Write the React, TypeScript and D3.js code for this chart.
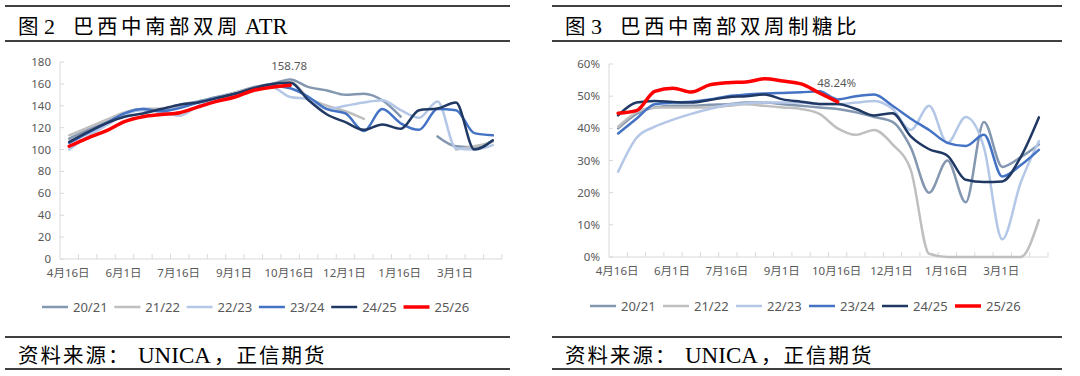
import React from "react";
import * as d3 from "d3";

const categories = [
  "4月16日", "5月1日", "5月16日", "6月1日", "6月16日", "7月1日", "7月16日", "8月1日",
  "8月16日", "9月1日", "9月16日", "10月1日", "10月16日", "11月1日", "11月16日", "12月1日",
  "12月16日", "1月1日", "1月16日", "2月1日", "2月16日", "3月1日", "3月16日", "4月1日",
];
const labelEvery = 3;

const seasons = ["20/21", "21/22", "22/23", "23/24", "24/25", "25/26"];
const seasonColors = ["#8497B0", "#BFBFBF", "#B4C7E7", "#4472C4", "#203864", "#FF0000"];

type V = number | null;

// 图2 ATR (kg/t)
const atr2021: V[] = [110, 118, 126, 133, 137, 137, 141, 144, 148, 152, 157, 160, 164, 157, 154, 150, 151, 145, 130, null, 112, 103, 102, 108];
const atr2122: V[] = [113, 120, 127, 134, 137, 137, 140, 143, 147, 152, 156, 159, 162, 147, 140, 135, 128, null, null, null, null, 100, 103, 107];
const atr2223: V[] = [100, 112, 122, 132, 136, 134, 131, 140, 146, 150, 155, 157, 148, 146, 137, 140, 143, 145, 136, 129, 144, 101, 100, 104];
const atr2324: V[] = [106, 115, 124, 133, 137, 135, 138, 143, 147, 151, 155, 158, 156, 148, 137, 133, 117, 137, 124, 118, 137, 136, 115, 113];
const atr2425: V[] = [107, 116, 124, 130, 133, 137, 141, 143, 147, 151, 156, 160, 161, 145, 132, 125, 118, 123, 119, 136, 137.5, 143, 100, 108.5];
const atr2526: V[] = [103, 110.5, 117, 125.5, 130, 132, 133.7, 139, 144, 148, 154, 157, 158.78, null, null, null, null, null, null, null, null, null, null, null];
const atrTicks = [0, 20, 40, 60, 80, 100, 120, 140, 160, 180];
const atrLabel = "158.78";

// 图3 制糖比 (%)
const mix2021: V[] = [40, 44.5, 46.5, 47, 47, 47.3, 47.5, 48, 48, 47.5, 47, 46.5, 46, 45, 43.5, 42, 34, 20, 30, 17, 42, 28, 31, 35];
const mix2122: V[] = [40.5, 45, 46.5, 46.5, 46.5, 46.5, 47, 47.5, 47, 46.5, 46, 44.5, 40, 38, 39.5, 35, 27, 1, 0, 0, 0, 0, 0, 11.5];
const mix2223: V[] = [26.5, 37, 40.5, 42.7, 44.5, 46, 47.3, 47.8, 48, 48, 48, 47.5, 47.5, 48, 48.5, 46, 39.5, 47, 35.5, 43.5, 34, 5.5, 23, 36];
const mix2324: V[] = [38.4, 43, 47.5, 48, 48.3, 49, 50, 50.5, 50.8, 51, 51.2, 51.5, 49, 50, 50.5, 47, 43, 39.5, 35.5, 34.5, 38, 25, 28.5, 33.3];
const mix2425: V[] = [44, 48, 48.5, 48.2, 48, 48.8, 49.7, 50, 50.5, 49, 48.3, 47.6, 47.6, 46, 44, 44.7, 37.5, 33.5, 31.5, 24, 23.3, 23.5, 31, 43.4];
const mix2526: V[] = [44.7, 45.5, 51.5, 52.5, 51.3, 53.5, 54.2, 54.4, 55.4, 54.7, 53.8, 51, 48.24, null, null, null, null, null, null, null, null, null, null, null];
const mixTicks = [0, 10, 20, 30, 40, 50, 60];
const mixLabel = "48.24%";

const SERIF = "'Liberation Serif', 'Times New Roman', 'Noto Sans CJK SC', serif";
const SANS = "'Noto Sans', 'Noto Sans CJK SC', sans-serif";
const GREY_TEXT = "#595959";

type ChartProps = {
  ox: number;
  ruleRight: number;
  titleNum: string;
  titleCjk: string;
  titleLatin?: string;
  series: V[][];
  yMax: number;
  ticks: number[];
  fmt: (v: number) => string;
  plot: { left: number; right: number; top: number; bottom: number };
  label: string;
  labelY: number;
  legendX: number;
  legendY: number;
  legendStep: number;
};

function Chart(p: ChartProps) {
  const x = d3.scaleBand<string>().domain(categories).range([p.plot.left, p.plot.right]).padding(0);
  const y = d3.scaleLinear().domain([0, p.yMax]).range([p.plot.bottom, p.plot.top]);
  const bw = x.bandwidth();
  const cx = (i: number) => (x(categories[i]) as number) + bw / 2;
  const line = d3
    .line<V>()
    .defined((d) => d !== null)
    .x((_, i) => cx(i))
    .y((d) => y(d as number))
    .curve(d3.curveMonotoneX);

  const red = p.series[5];
  let lastIdx = 0;
  red.forEach((v, i) => { if (v !== null) lastIdx = i; });

  const tx = p.ox + 13;
  return (
    <g>
      <line x1={p.ox} x2={p.ruleRight} y1={6} y2={6} stroke="#000" strokeWidth={1.5} />
      <line x1={p.ox} x2={p.ruleRight} y1={41} y2={41} stroke="#000" strokeWidth={1.5} />
      <text y={34} fontFamily={SERIF} fontSize={20.5} fill="#000">
        <tspan x={tx}>图</tspan>
        <tspan x={tx + 26} fontSize={22}>{p.titleNum}</tspan>
        <tspan x={tx + 55} letterSpacing={3.5}>{p.titleCjk}</tspan>
        {p.titleLatin ? <tspan x={tx + 227} fontSize={22.5}>{p.titleLatin}</tspan> : null}
      </text>

      <line x1={p.plot.left} x2={p.plot.left} y1={p.plot.top} y2={p.plot.bottom} stroke="#D9D9D9" strokeWidth={1} />
      <line x1={p.plot.left} x2={p.plot.right} y1={p.plot.bottom} y2={p.plot.bottom} stroke="#D9D9D9" strokeWidth={1} />
      {categories.map((c, i) => (
        <line key={"xt" + i} x1={(x(c) as number) + bw} x2={(x(c) as number) + bw} y1={p.plot.bottom} y2={p.plot.bottom - 5} stroke="#D9D9D9" />
      ))}
      {p.ticks.map((t) => (
        <g key={"yt" + t}>
          <line x1={p.plot.left} x2={p.plot.left + 4} y1={y(t)} y2={y(t)} stroke="#D9D9D9" />
          <text x={p.plot.left - 9} y={y(t)} dy="0.35em" textAnchor="end" fontFamily={SANS} fontSize={11.5} fill={GREY_TEXT}>
            {p.fmt(t)}
          </text>
        </g>
      ))}
      {categories.map((c, i) =>
        i % labelEvery === 0 ? (
          <text key={"xl" + i} x={cx(i) - 1} y={p.plot.bottom + 18} textAnchor="middle" fontFamily={SANS} fontSize={11.5} fill={GREY_TEXT}>
            {c}
          </text>
        ) : null
      )}

      {p.series.map((s, k) => (
        <path key={"s" + k} d={line(s) || ""} fill="none" stroke={seasonColors[k]} strokeWidth={k === 5 ? 3.5 : 2.5} strokeLinejoin="round" strokeLinecap="round" />
      ))}

      <text x={cx(lastIdx) - 1} y={p.labelY} textAnchor="middle" fontFamily={SANS} fontSize={11.5} fill={GREY_TEXT}>
        {p.label}
      </text>

      {seasons.map((s, k) => {
        const lx = p.legendX + k * p.legendStep;
        return (
          <g key={"lg" + k}>
            <line x1={lx} x2={lx + 26} y1={p.legendY} y2={p.legendY} stroke={seasonColors[k]} strokeWidth={k === 5 ? 3.5 : 2.5} />
            <text x={lx + 31} y={p.legendY} dy="0.35em" fontFamily={SANS} fontSize={13} fill={GREY_TEXT}>
              {s}
            </text>
          </g>
        );
      })}

      <line x1={p.ox} x2={p.ruleRight} y1={337} y2={337} stroke="#000" strokeWidth={1.5} />
      <line x1={p.ox} x2={p.ruleRight} y1={369} y2={369} stroke="#000" strokeWidth={1.5} />
      <text y={363} fontFamily={SERIF} fontSize={20.5} fill="#000">
        <tspan x={tx} letterSpacing={2}>资料来源：</tspan>
        <tspan x={tx + 120} fontSize={23}>UNICA</tspan>
        <tspan x={tx + 196} letterSpacing={2}>，正信期货</tspan>
      </text>
    </g>
  );
}

export default function App() {
  return (
    <svg width={1080} height={376} style={{ position: "absolute", left: 0, top: 0, background: "#fff" }}>
      <rect x={0} y={0} width={1080} height={376} fill="#fff" />
      <Chart
        ox={5}
        ruleRight={510}
        titleNum="2"
        titleCjk="巴西中南部双周"
        titleLatin="ATR"
        series={[atr2021, atr2122, atr2223, atr2324, atr2425, atr2526]}
        yMax={180}
        ticks={atrTicks}
        fmt={(v) => String(v)}
        plot={{ left: 60, right: 502, top: 62, bottom: 259 }}
        label={atrLabel}
        labelY={70}
        legendX={42}
        legendY={307}
        legendStep={72.3}
      />
      <Chart
        ox={552}
        ruleRight={1062}
        titleNum="3"
        titleCjk="巴西中南部双周制糖比"
        series={[mix2021, mix2122, mix2223, mix2324, mix2425, mix2526]}
        yMax={60}
        ticks={mixTicks}
        fmt={(v) => v + "%"}
        plot={{ left: 609, right: 1048, top: 64, bottom: 257 }}
        label={mixLabel}
        labelY={87}
        legendX={590}
        legendY={306}
        legendStep={73}
      />
    </svg>
  );
}
